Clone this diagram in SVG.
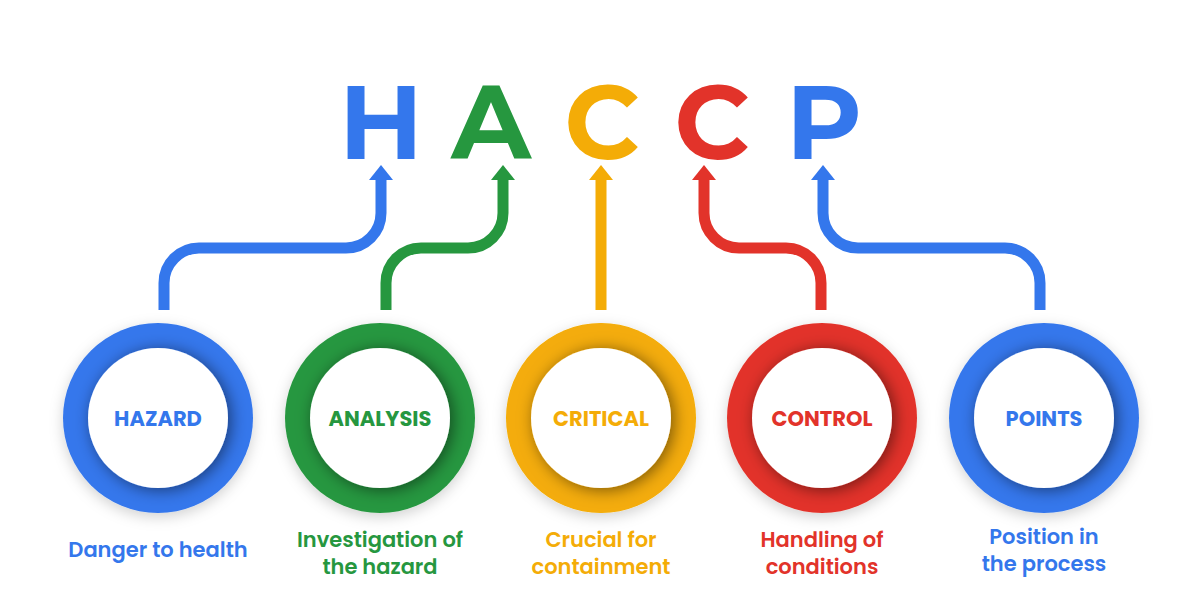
<svg xmlns="http://www.w3.org/2000/svg" width="1200" height="611" viewBox="0 0 1200 611">
<style>
.big{font-family:Montserrat,"Open Sans","Liberation Sans",sans-serif;font-weight:700;font-size:104px;text-anchor:middle}
.lbl{font-family:Poppins,"Open Sans","Liberation Sans",sans-serif;font-weight:700;font-size:21px;text-anchor:middle}
.sub{font-family:Poppins,"Open Sans","Liberation Sans",sans-serif;font-weight:600;font-size:21px;text-anchor:middle}
.con{fill:none;stroke-width:11}
.inner{fill:#fff;filter:url(#inShadow)}
.ring{filter:url(#outShadow)}
.blue{fill:#3477EC}.green{fill:#26973F}.yellow{fill:#F4AC07}.red{fill:#E2332A}
</style>
<defs>
<filter id="outShadow" x="-30%" y="-30%" width="160%" height="160%">
<feDropShadow dx="0" dy="4" stdDeviation="7" flood-color="#000" flood-opacity="0.18"/>
</filter>
<filter id="inShadow" x="-30%" y="-30%" width="160%" height="160%">
<feDropShadow dx="3" dy="2" stdDeviation="8" flood-color="#000" flood-opacity="0.5"/>
</filter>
<marker id="aBlue" markerUnits="userSpaceOnUse" markerWidth="16" markerHeight="26" viewBox="0 -13 16 26" refX="0" refY="0" orient="auto"><path d="M0,-12 L15,0 L0,12 Z" fill="#3477EC"/></marker>
<marker id="aGreen" markerUnits="userSpaceOnUse" markerWidth="16" markerHeight="26" viewBox="0 -13 16 26" refX="0" refY="0" orient="auto"><path d="M0,-12 L15,0 L0,12 Z" fill="#26973F"/></marker>
<marker id="aYellow" markerUnits="userSpaceOnUse" markerWidth="16" markerHeight="26" viewBox="0 -13 16 26" refX="0" refY="0" orient="auto"><path d="M0,-12 L15,0 L0,12 Z" fill="#F4AC07"/></marker>
<marker id="aRed" markerUnits="userSpaceOnUse" markerWidth="16" markerHeight="26" viewBox="0 -13 16 26" refX="0" refY="0" orient="auto"><path d="M0,-12 L15,0 L0,12 Z" fill="#E2332A"/></marker>
</defs>
<rect width="1200" height="611" fill="#fff"/>

<g id="title">
<text class="big blue" x="381" y="159">H</text>
<text class="big green" x="491" y="159">A</text>
<text class="big yellow" x="602" y="159">C</text>
<text class="big red" x="712" y="159">C</text>
<text class="big blue" x="824" y="159">P</text>
</g>

<g id="connectors">
<path class="con" stroke="#3477EC" marker-end="url(#aBlue)" d="M164 310 V283 A35 35 0 0 1 199 248 H346 A35 35 0 0 0 381 213 V180"/>
<path class="con" stroke="#26973F" marker-end="url(#aGreen)" d="M386 310 V283 A35 35 0 0 1 421 248 H468 A35 35 0 0 0 503 213 V180"/>
<path class="con" stroke="#F4AC07" marker-end="url(#aYellow)" d="M601 310 V180"/>
<path class="con" stroke="#E2332A" marker-end="url(#aRed)" d="M821 310 V283 A35 35 0 0 0 786 248 H739 A35 35 0 0 1 704 213 V180"/>
<path class="con" stroke="#3477EC" marker-end="url(#aBlue)" d="M1040 310 V283 A35 35 0 0 0 1005 248 H858 A35 35 0 0 1 823 213 V180"/>
</g>

<g id="hazard">
<circle class="ring blue" cx="158" cy="418" r="95"/>
<circle class="inner" cx="158" cy="418" r="70"/>
<text class="lbl blue" x="158" y="426">HAZARD</text>
<text class="sub blue" x="158" y="557">Danger to health</text>
</g>
<g id="analysis">
<circle class="ring green" cx="380" cy="418" r="95"/>
<circle class="inner" cx="380" cy="418" r="70"/>
<text class="lbl green" x="380" y="426">ANALYSIS</text>
<text class="sub green" x="380" y="547">Investigation of</text>
<text class="sub green" x="380" y="574">the hazard</text>
</g>
<g id="critical">
<circle class="ring yellow" cx="601" cy="418" r="95"/>
<circle class="inner" cx="601" cy="418" r="70"/>
<text class="lbl yellow" x="601" y="426">CRITICAL</text>
<text class="sub yellow" x="601" y="547">Crucial for</text>
<text class="sub yellow" x="601" y="574">containment</text>
</g>
<g id="control">
<circle class="ring red" cx="822" cy="418" r="95"/>
<circle class="inner" cx="822" cy="418" r="70"/>
<text class="lbl red" x="822" y="426">CONTROL</text>
<text class="sub red" x="822" y="547">Handling of</text>
<text class="sub red" x="822" y="574">conditions</text>
</g>
<g id="points">
<circle class="ring blue" cx="1044" cy="418" r="95"/>
<circle class="inner" cx="1044" cy="418" r="70"/>
<text class="lbl blue" x="1044" y="426">POINTS</text>
<text class="sub blue" x="1044" y="544">Position in</text>
<text class="sub blue" x="1044" y="571">the process</text>
</g>
</svg>
